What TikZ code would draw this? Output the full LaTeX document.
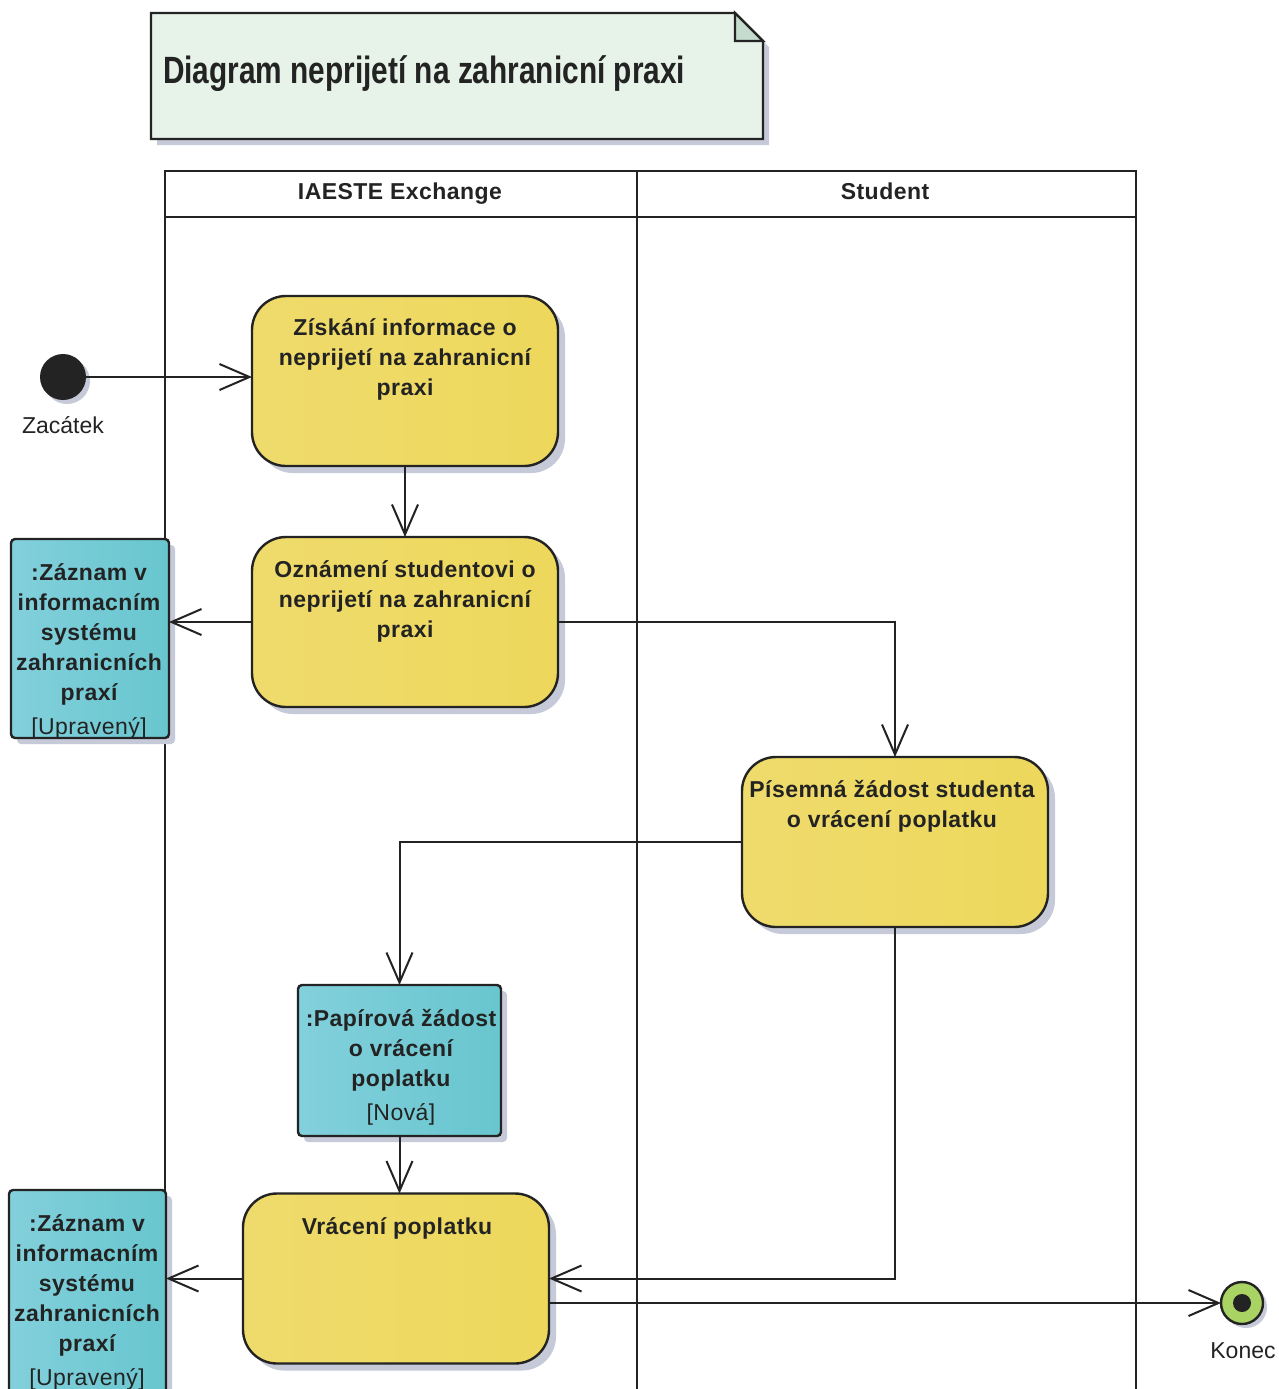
\documentclass[tikz,border=0pt]{standalone}
\usepackage{fontspec}
\setmainfont{Liberation Sans}
\newfontfamily\narrowfont[FakeStretch=0.785]{Liberation Sans}
\usetikzlibrary{arrows.meta,shadows}
\definecolor{linec}{HTML}{232323}
\definecolor{shadowc}{HTML}{C6CAD8}
\definecolor{notefill}{HTML}{E7F3E9}
\definecolor{foldfill}{HTML}{C4DBCE}
\definecolor{yelL}{HTML}{EFDB6C}
\definecolor{yelM}{HTML}{F3E9A2}
\definecolor{yelR}{HTML}{EDD85C}
\definecolor{cyaL}{HTML}{82D0DC}
\definecolor{cyaM}{HTML}{A0DAE4}
\definecolor{cyaR}{HTML}{68C6CE}
\definecolor{endfill}{HTML}{A9D362}
\begin{document}
\begin{tikzpicture}[x=0.5pt,y=-0.5pt,
  every node/.style={inner sep=0pt, outer sep=0pt},
  txt/.style={font=\fontsize{11.5}{15}\selectfont\bfseries\addfontfeatures{LetterSpace=2}, text=linec, align=center},
  plain/.style={font=\fontsize{11.5}{14}\selectfont, text=linec},
  action/.style={draw=linec, line width=1.2pt, rounded corners=17pt,
    left color=yelL, middle color=yelM, right color=yelR,
    drop shadow={shadow xshift=3.5pt, shadow yshift=-3.5pt, fill=shadowc, opacity=1},
    minimum width=153pt, minimum height=85pt},
  objbox/.style={draw=linec, line width=1.2pt, rounded corners=2pt,
    left color=cyaL, middle color=cyaM, right color=cyaR,
    drop shadow={shadow xshift=3pt, shadow yshift=-3pt, fill=shadowc, opacity=1}},
  arr/.style={draw=linec, line width=1pt, -{Straight Barb[length=15pt,width=13pt,line width=1pt]}},
  lane/.style={draw=linec, line width=1.3pt}]
\useasboundingbox (0,0) rectangle (1279,1389);
\fill[white] (0,0) rectangle (1279,1389);

% title note
\fill[shadowc] (157,19) -- (741,19) -- (769,47) -- (769,145) -- (157,145) -- cycle;
\draw[linec, line width=1.2pt, fill=notefill] (151,13) -- (735,13) -- (763,41) -- (763,139) -- (151,139) -- cycle;
\draw[linec, line width=1.2pt, fill=foldfill] (735,13) -- (735,41) -- (763,41) -- cycle;
\node[anchor=west, font=\narrowfont\fontsize{19}{22}\selectfont\bfseries, text=linec] (title) at (163,74) {Diagram neprijetí na zahranicní praxi};

% swimlanes
\draw[lane] (165,1395) -- (165,171) -- (1136,171) -- (1136,1395);
\draw[lane] (637,171) -- (637,1395);
\draw[lane] (165,217) -- (1136,217);
\node[txt, anchor=base] (lane1) at (400,199) {IAESTE Exchange};
\node[txt, anchor=base] (lane2) at (885,199) {Student};

% start / end
\node[circle, fill=linec, minimum size=23pt, drop shadow={shadow xshift=2pt, shadow yshift=-2pt, fill=shadowc, opacity=1}] (start) at (63,377) {};
\node[plain] (startlbl) at (63,425) {Zacátek};
\node[circle, draw=linec, line width=1.2pt, fill=endfill, minimum size=21pt, drop shadow={shadow xshift=2pt, shadow yshift=-2pt, fill=shadowc, opacity=1}] (end) at (1242,1303) {};
\node[circle, fill=linec, minimum size=9pt] (enddot) at (1242,1303) {};
\node[plain] (endlbl) at (1243,1351) {Konec};

% actions
\node[action] (a1) at (405,381) {};
\node[txt] (t1) at (405,359.5) {Získání informace o\\neprijetí na zahranicní\\praxi};
\node[action] (a2) at (405,622) {};
\node[txt] (t2) at (405,601) {Oznámení studentovi o\\neprijetí na zahranicní\\praxi};
\node[action] (a3) at (895,842) {};
\node[txt] (t3) at (892,806) {Písemná žádost studenta\\o vrácení poplatku};
\node[action] (a4) at (396,1278.5) {};
\node[txt] (t4) at (397,1228) {Vrácení poplatku};

% objects
\node[objbox, minimum width=79pt, minimum height=99.5pt] (o1) at (90,638.5) {};
\node[txt] (ot1) at (89,651) {:Záznam v\\informacním\\systému\\zahranicních\\praxí\\[2pt]\mdseries[Upravený]};
\node[objbox, minimum width=101.5pt, minimum height=75.5pt] (o2) at (399.5,1060.5) {};
\node[txt] (ot2) at (401,1067) {:Papírová žádost\\o vrácení\\poplatku\\[2pt]\mdseries[Nová]};
\node[objbox, minimum width=78.5pt, minimum height=102.5pt] (o3) at (87.5,1292.5) {};
\node[txt] (ot3) at (87,1302) {:Záznam v\\informacním\\systému\\zahranicních\\praxí\\[2pt]\mdseries[Upravený]};

% connectors
\draw[arr] (start) -- (start -| a1.west);
\draw[arr] (a1) -- (a2);
\draw[arr] (a2.west) -- (a2.west -| o1.east);
\draw[arr] (a2.east) -| (a3.north);
\draw[arr] (a3.west) -| (o2.north);
\draw[arr] (o2.south) -- (o2.south |- a4.north);
\draw[arr] (a4.west) -- (a4.west -| o3.east);
\draw[arr] (a3.south) |- (a4.east);
\draw[arr] (a4.east |- end) -- (end);
\end{tikzpicture}
\end{document}
